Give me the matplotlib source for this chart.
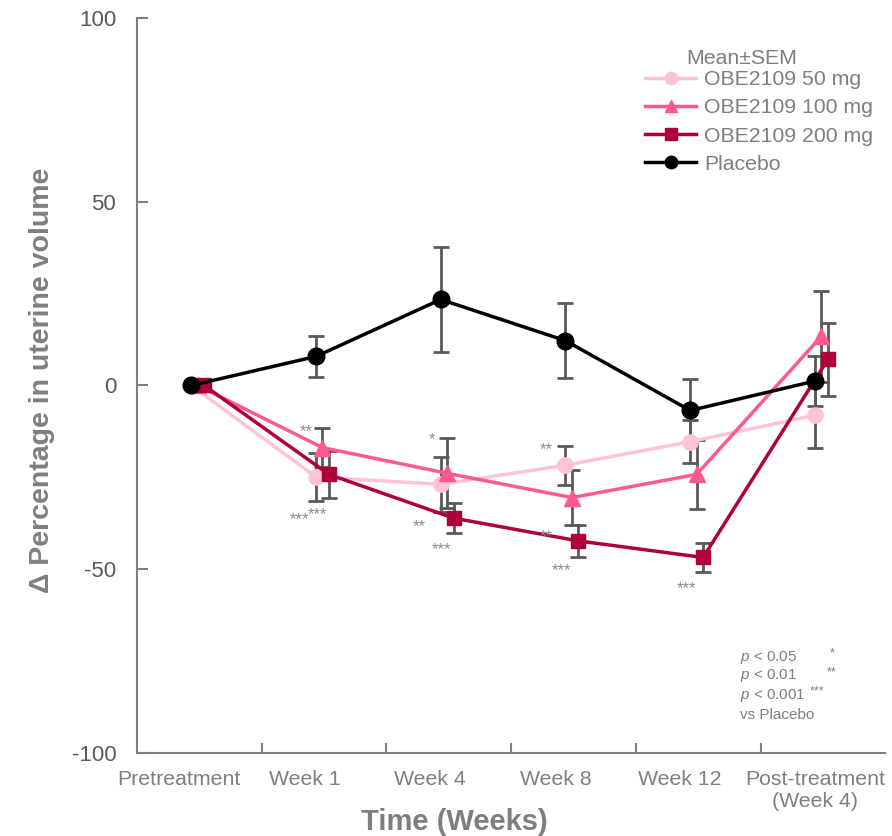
import matplotlib.pyplot as plt
import numpy as np

plt.rcParams['font.family'] = ['Liberation Sans', 'DejaVu Sans']
plt.rcParams['mathtext.fontset'] = 'custom'
plt.rcParams['mathtext.it'] = 'Liberation Sans:italic'
plt.rcParams['mathtext.rm'] = 'Liberation Sans'

# Data
timepoints = ["Pretreatment", "Week 1", "Week 4", "Week 8", "Week 12", "Post-treatment\n(Week 4)"]

mean_50 = [0, -24.9, -26.9, -21.7, -15.3, -8.1]
sem_50 = [0, 6.5, 7.5, 5.3, 5.8, 8.8]

mean_100 = [0, -16.9, -23.9, -30.5, -24.2, 13.4]
sem_100 = [0, 5.4, 9.5, 7.5, 9.5, 12.4]

mean_200 = [0, -24.2, -36.1, -42.3, -46.8, 7.1]
sem_200 = [0, 6.3, 4.0, 4.3, 3.9, 9.9]

mean_pbo = [0, 7.9, 23.4, 12.2, -6.8, 1.2]
sem_pbo = [0, 5.5, 14.2, 10.3, 8.6, 6.7]

# significance stars (label, x, y) in data units
stars = [("**", 0.92, -12.5), ("***", 0.87, -36.4), ("***", 1.01, -35.1),
         ("*", 1.93, -14.7), ("**", 1.83, -38.3), ("***", 2.01, -44.6),
         ("**", 2.85, -17.4), ("**", 2.85, -41.0), ("***", 2.97, -50.3),
         ("***", 3.97, -55.4)]

c50 = '#FFC2D6'
c100 = '#FF5A8E'
c200 = '#B00038'
err_col = '#595959'
text_col = '#7F7F7F'

x = np.arange(len(timepoints))
label_pos = [-0.1, 0.91, 1.91, 2.92, 3.92, 5.0]

fig = plt.figure(figsize=(8.92, 8.36), dpi=100)
ax = fig.add_axes([0.1536, 0.0993, 0.8384, 0.8792])

series = [
    ("OBE2109 50 mg", mean_50, sem_50, c50, 'o', 0.0, 11),
    ("OBE2109 100 mg", mean_100, sem_100, c100, '^', 0.052, 11),
    ("OBE2109 200 mg", mean_200, sem_200, c200, 's', 0.104, 10),
    ("Placebo", mean_pbo, sem_pbo, 'black', 'o', 0.0, 12),
]

for label, m, s, col, mk, off, ms in series:
    xs = x + off
    ax.errorbar(xs[1:], m[1:], yerr=s[1:], fmt='none', ecolor=err_col,
                elinewidth=2, capsize=6, capthick=2, zorder=2)
handles = []
for label, m, s, col, mk, off, ms in series:
    xs = x + off
    h, = ax.plot(xs, m, color=col, marker=mk, markersize=ms, linewidth=2.5,
                 label=label, zorder=3)
    handles.append(h)

for lab, sx, sy in stars:
    ax.text(sx, sy, lab, fontsize=12, color='#8C8C8C', ha='center', va='center')

ax.set_xlim(-0.435, 5.561)
ax.set_ylim(-100, 100)
ax.set_yticks([-100, -50, 0, 50, 100])
ax.set_yticklabels(["-100", "-50", "0", "50", "100"])
ax.set_xticks(label_pos)
ax.set_xticklabels(timepoints)
ax.set_xticks(np.arange(5) + 0.565, minor=True)
ax.tick_params(axis='x', which='major', length=0, labelsize=15.3, pad=12)
ax.tick_params(axis='x', which='minor', direction='in', length=7, width=1.5, color='#808080')
ax.tick_params(axis='y', direction='in', length=8, width=1.5, color='#808080',
               labelsize=16, labelcolor='#595959', pad=15)
for lbl in ax.get_xticklabels():
    lbl.set_color('#7F7F7F')

for sp in ['top', 'right']:
    ax.spines[sp].set_visible(False)
for sp in ['left', 'bottom']:
    ax.spines[sp].set_color('#808080')
    ax.spines[sp].set_linewidth(1.5)

ax.set_xlabel("Time (Weeks)", fontsize=21, fontweight='bold', color='#7F7F7F', labelpad=2)
ax.xaxis.set_label_coords(0.425, -0.075)
ax.set_ylabel("\u0394 Percentage in uterine volume", fontsize=20.5, fontweight='bold',
              color='#7F7F7F', labelpad=2)
ax.yaxis.set_label_coords(-0.11, 0.507)

# legend with separate title
fig.text(742 / 892, 1 - 58 / 836, "Mean\u00b1SEM", fontsize=15.3, color='#7F7F7F',
         ha='center', va='center')
leg = ax.legend(handles=handles, loc='upper left', bbox_to_anchor=(0.66, 0.949),
                frameon=False, fontsize=15.3,
                handlelength=2.4, labelspacing=0.43, handletextpad=0.35, borderpad=0.2)
for t in leg.get_texts():
    t.set_color('#7F7F7F')
for lh in leg.legend_handles:
    lh.set_markersize(9)

# p-value key
pkey = [(r"$\it{p}$ < 0.05", "*"), (r"$\it{p}$ < 0.01", "**"), (r"$\it{p}$ < 0.001", "***")]
fx0 = 740 / 892
for i, (txt, st) in enumerate(pkey):
    fy = 1 - (657 + i * 19) / 836
    fig.text(fx0, fy, txt, fontsize=11, color='#7F7F7F', va='center', ha='left')
    sx = 832 / 892 if i < 2 else 817 / 892
    fig.text(sx, fy + 0.004, st, fontsize=9, color='#7F7F7F', va='center', ha='center')
fig.text(fx0, 1 - 715 / 836, "vs Placebo", fontsize=11, color='#7F7F7F', va='center', ha='left')

fig.savefig('out.png', dpi=100)
